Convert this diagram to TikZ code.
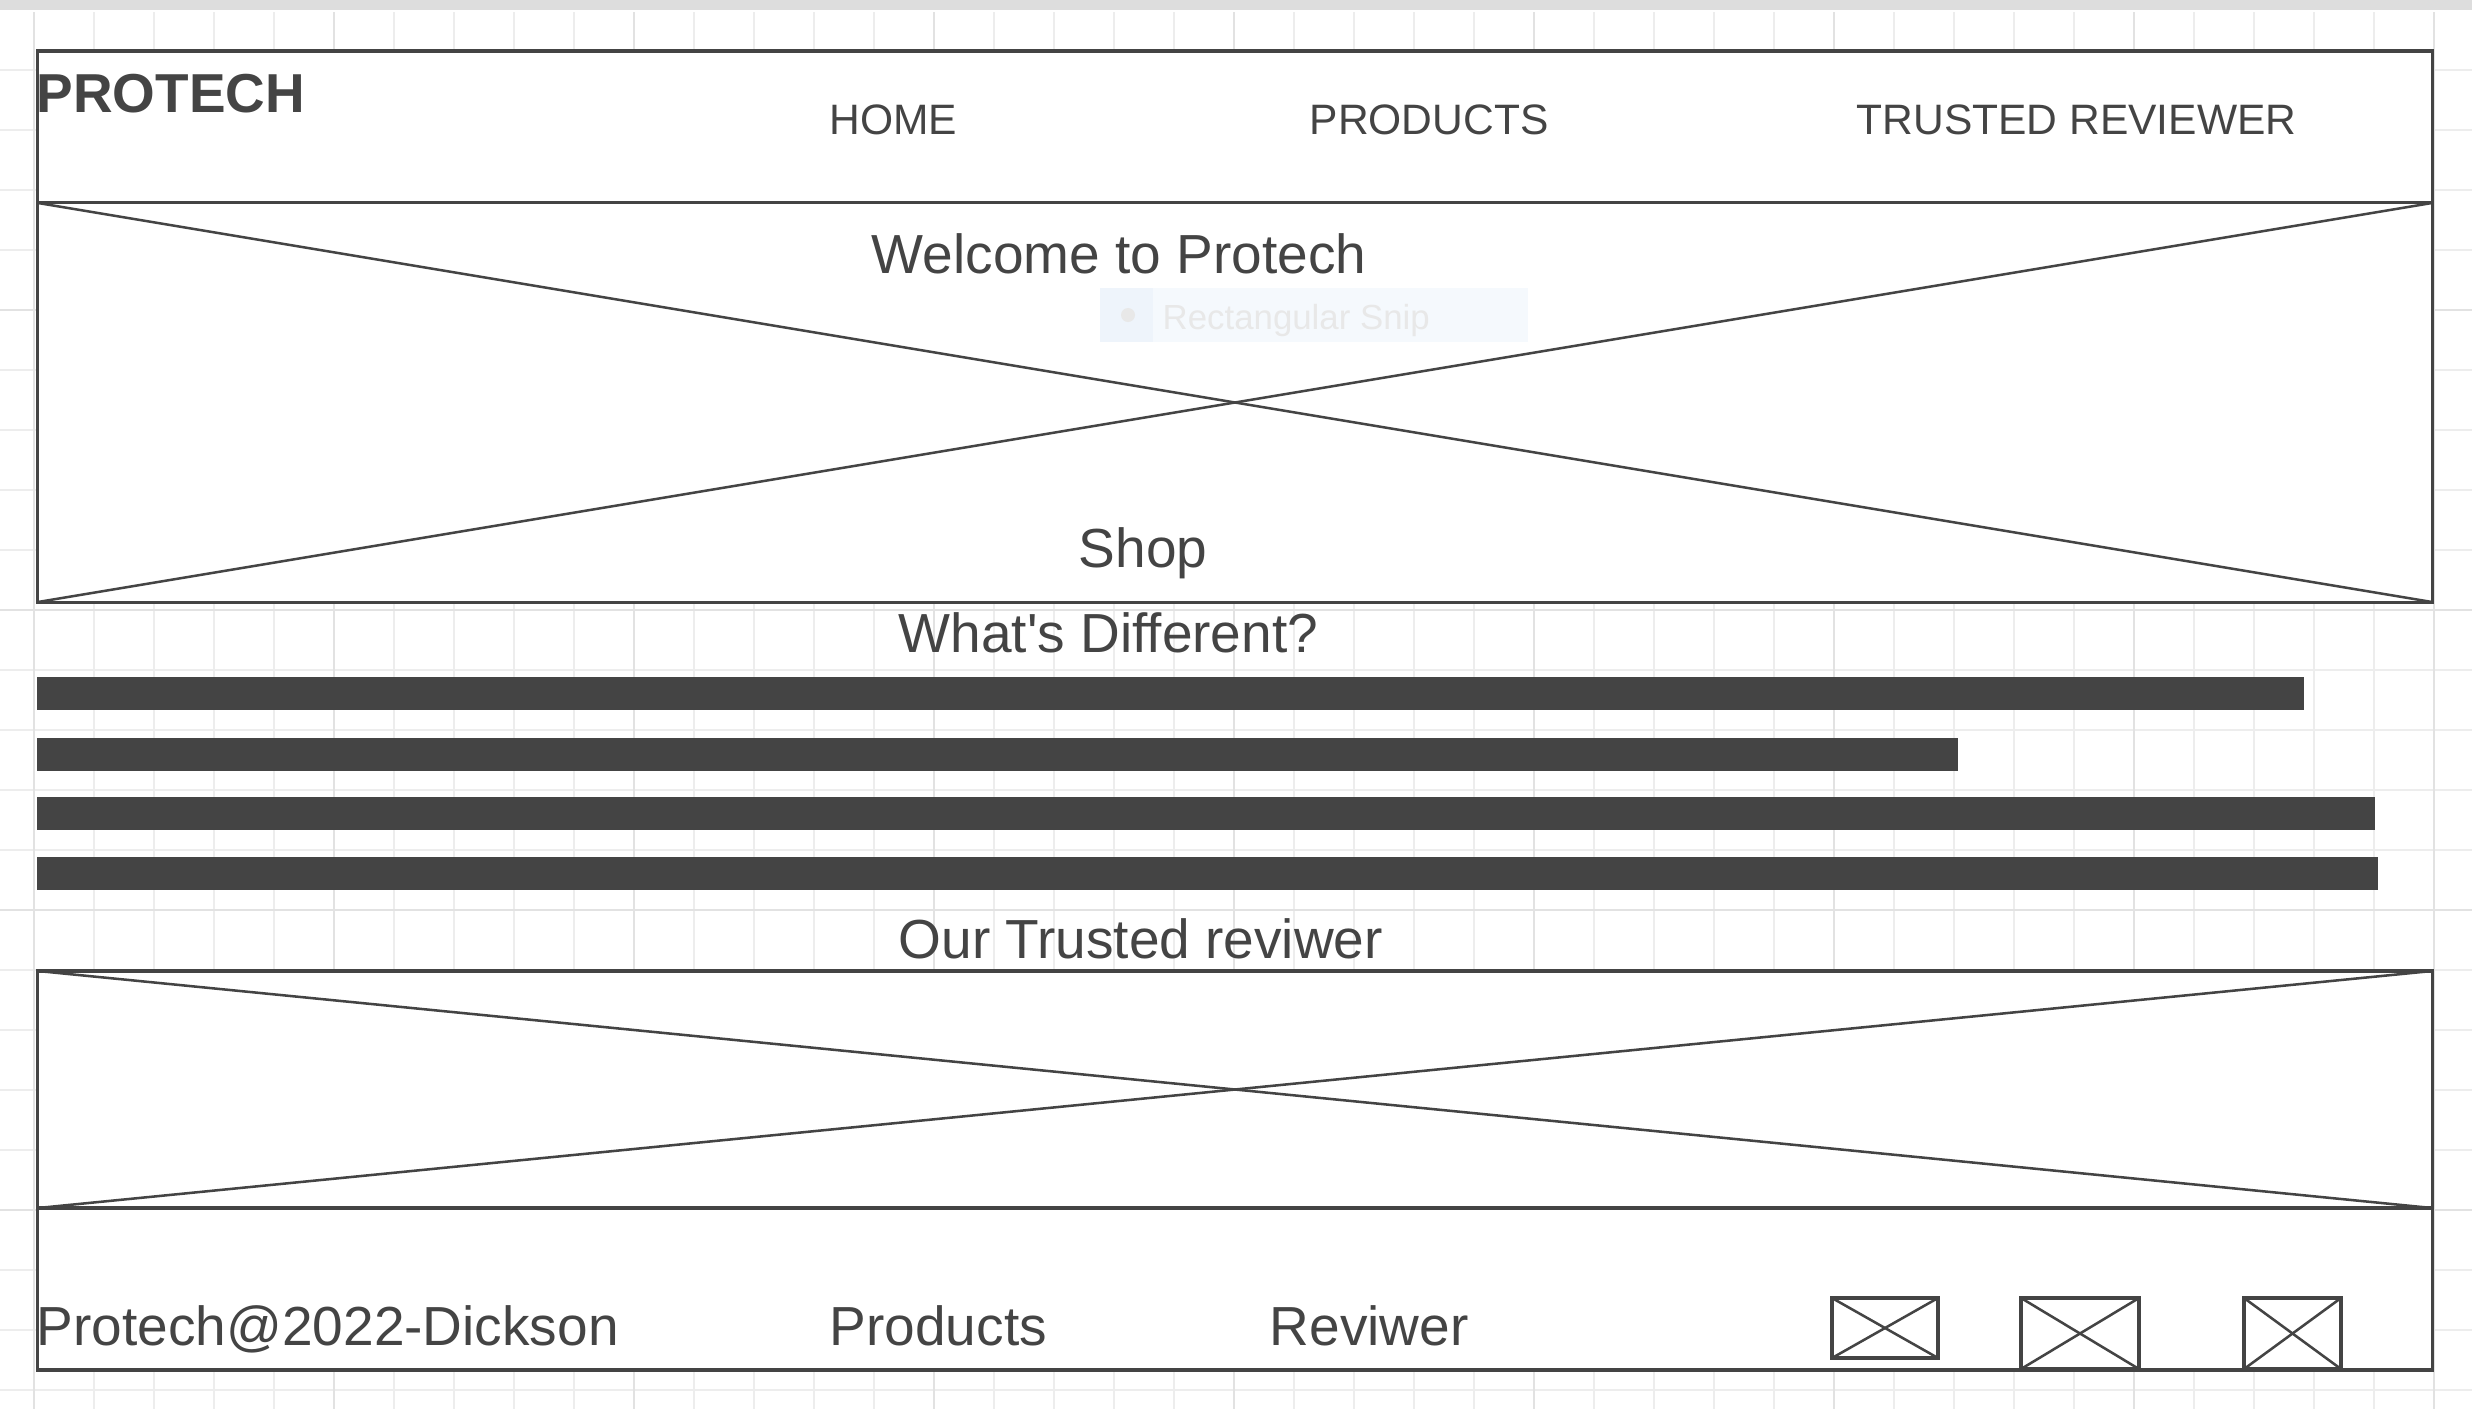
\documentclass[tikz,border=0pt]{standalone}
\usepackage{fontspec}
\setmainfont{Liberation Sans}

\definecolor{ink}{HTML}{444444}
\definecolor{gridminor}{HTML}{EDEDED}
\definecolor{gridmajor}{HTML}{E2E2E2}
\definecolor{topband}{HTML}{DDDDDD}
\definecolor{snipbg}{HTML}{F5F9FD}
\definecolor{snipside}{HTML}{EEF4FB}
\definecolor{snipfg}{HTML}{E8E8E8}

\begin{document}
\begin{tikzpicture}[x=0.01cm, y=-0.01cm,
    frame/.style={draw=ink, line width=0.9pt, fill=white, inner sep=0pt, outer sep=0pt},
    cross/.style={ink, line width=0.72pt},
    heading/.style={anchor=base west, inner sep=0pt, text=ink, font=\fontsize{15.65}{18}\selectfont},
    navitem/.style={anchor=base west, inner sep=0pt, text=ink, font=\fontsize{12.1}{14}\selectfont}]

    \useasboundingbox (0,0) rectangle (2472,1409);
    \fill[white] (0,0) rectangle (2472,1409);
    \fill[topband] (0,0) rectangle (2472,10);

    % background grid
    \foreach \i in {0,...,40}{
            {\draw[gridminor, line width=0.55pt] (34+60*\i,12) -- (34+60*\i,1409);}
    }
    \foreach \j in {1,...,23}{
            {\draw[gridminor, line width=0.55pt] (0,10+60*\j) -- (2472,10+60*\j);}
    }
    \foreach \i in {0,5,...,40}{
            {\draw[gridmajor, line width=0.7pt] (34+60*\i,12) -- (34+60*\i,1409);}
    }
    \foreach \j in {5,10,...,20}{
            {\draw[gridmajor, line width=0.7pt] (0,10+60*\j) -- (2472,10+60*\j);}
    }

    % header
    \node[frame, minimum width=23.94cm, minimum height=1.52cm] (header) at (1235,127) {};
    \node[anchor=base west, inner sep=0pt, text=ink, font=\fontsize{15.6}{18}\selectfont\bfseries] (logo) at (36,113) {PROTECH};
    \node[navitem] (home) at (829,134) {HOME};
    \node[navitem] (products) at (1309,134) {PRODUCTS};
    \node[navitem] (reviewer) at (1856,134) {TRUSTED REVIEWER};

    % hero image
    \node[frame, minimum width=23.94cm, minimum height=3.99cm] (hero) at (1235,402.5) {};
    \draw[cross] (hero.north west) -- (hero.south east);
    \draw[cross] (hero.south west) -- (hero.north east);
    \node[heading] (welcome) at (871,273) {Welcome to Protech};
    \node[heading] (shop) at (1078,567) {Shop};

    \fill[snipbg] (1100,288) rectangle (1528,342);
    \fill[snipside] (1100,288) rectangle (1153,342);
    \node[circle, fill=snipfg, minimum size=0.14cm, inner sep=0pt] (snipdot) at (1128,315) {};
    \node[anchor=base west, inner sep=0pt, text=snipfg, font=\fontsize{9.9}{12}\selectfont] (snip) at (1162,329) {Rectangular Snip};

    % text lines
    \node[heading] (different) at (898,652) {What\textquotesingle s Different?};
    \foreach \y/\xe in {677/2304, 738/1958, 797/2375, 857/2378}{
            {\fill[ink] (37,\y) rectangle (\xe,\y+33);}
    }

    % trusted reviewer image
    \node[heading] (trustedtitle) at (898,958) {Our Trusted reviwer};
    \node[frame, minimum width=23.94cm, minimum height=2.37cm] (trusted) at (1235,1089.5) {};
    \draw[cross] (trusted.north west) -- (trusted.south east);
    \draw[cross] (trusted.south west) -- (trusted.north east);

    % footer
    \node[frame, minimum width=23.94cm, minimum height=1.62cm] (footer) at (1235,1289) {};
    \node[heading] (copyright) at (36,1345) {Protech@2022-Dickson};
    \node[heading] (footproducts) at (829,1345) {Products};
    \node[heading] (footreviewer) at (1269,1345) {Reviwer};
    \foreach \n/\cx/\cy/\w/\h in {iconA/1885/1328/1.06/0.60, iconB/2080/1333.5/1.18/0.71, iconC/2292.5/1333.5/0.97/0.71}{
            \node[frame, minimum width=\w cm, minimum height=\h cm] (\n) at (\cx,\cy) {};
            \draw[cross] (\n.north west) -- (\n.south east);
            \draw[cross] (\n.south west) -- (\n.north east);
    }

\end{tikzpicture}
\end{document}
